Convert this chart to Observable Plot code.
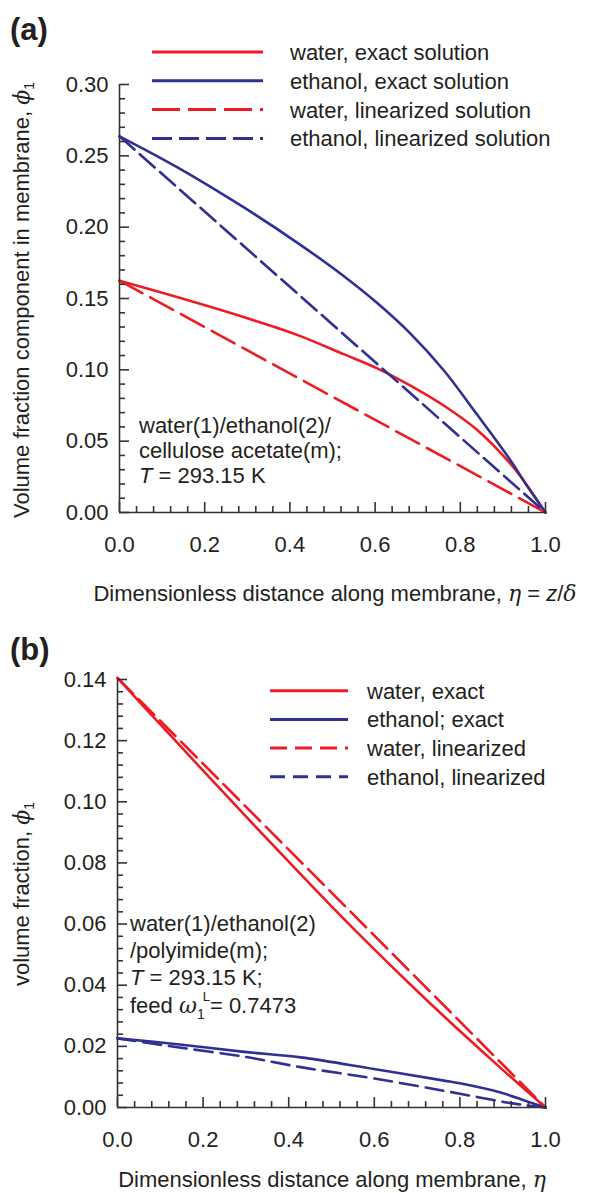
<!DOCTYPE html>
<html><head><meta charset="utf-8">
<script src="https://cdn.jsdelivr.net/npm/d3@7"></script>
<script src="https://cdn.jsdelivr.net/npm/@observablehq/plot@0.6"></script>
<style>
body{margin:0;background:#fff;}
#wrap{position:relative;width:589px;height:1193px;}
.panel{position:absolute;left:0;}
</style></head><body><div id="wrap"></div>
<script>
// ---------- Panel (a): water(1)/ethanol(2)/cellulose acetate(m) ----------
const etaA_waterExact   = [0, 0.135, 0.291, 0.417, 0.526, 0.605, 0.683, 0.761, 0.839, 0.918, 0.965, 1];
const phiA_waterExact   = [0.1625, 0.151, 0.137, 0.1245, 0.111, 0.101, 0.089, 0.075, 0.058, 0.034, 0.0155, 0];
const etaA_ethanolExact = [0, 0.135, 0.291, 0.417, 0.526, 0.605, 0.683, 0.761, 0.839, 0.918, 0.957, 1];
const phiA_ethanolExact = [0.2637, 0.2421, 0.2140, 0.1892, 0.1658, 0.1468, 0.1254, 0.0997, 0.0688, 0.0365, 0.0185, 0];
const etaA_waterLin     = [0, 0.5, 1];
const phiA_waterLin     = [0.1625, 0.0812, 0];
const etaA_ethanolLin   = [0, 0.5, 1];
const phiA_ethanolLin   = [0.2637, 0.1318, 0];
const yMajorA = [0, 0.05, 0.10, 0.15, 0.20, 0.25, 0.30];
const yMinorA = [0.01,0.02,0.03,0.04,0.06,0.07,0.08,0.09,0.11,0.12,0.13,0.14,0.16,0.17,0.18,0.19,0.21,0.22,0.23,0.24,0.26,0.27,0.28,0.29];

// ---------- Panel (b): water(1)/ethanol(2)/polyimide(m) ----------
const etaB_waterExact   = [0, 0.1, 0.2, 0.3, 0.4, 0.5, 0.6, 0.7, 0.8, 0.9, 1];
const phiB_waterExact   = [0.1405, 0.1253, 0.1102, 0.0952, 0.0804, 0.0658, 0.0517, 0.0381, 0.0250, 0.0123, 0];
const etaB_waterLin     = [0, 0.5, 1];
const phiB_waterLin     = [0.1405, 0.0703, 0];
const etaB_ethanolExact = [0, 0.14, 0.296, 0.428, 0.599, 0.763, 0.80, 0.895, 0.957, 1];
const phiB_ethanolExact = [0.0226, 0.0207, 0.0182, 0.0164, 0.0126, 0.0088, 0.0079, 0.0049, 0.0020, 0];
const etaB_ethanolLin   = [0, 0.14, 0.296, 0.428, 0.599, 0.80, 0.895, 0.95, 1];
const phiB_ethanolLin   = [0.0226, 0.0197, 0.0166, 0.0132, 0.0095, 0.0045, 0.0020, 0.0008, 0];
const yMajorB = [0, 0.02, 0.04, 0.06, 0.08, 0.10, 0.12, 0.14];
const yMinorB = [0.004,0.008,0.012,0.016,0.024,0.028,0.032,0.036,0.044,0.048,0.052,0.056,0.064,0.068,0.072,0.076,0.084,0.088,0.092,0.096,0.104,0.108,0.112,0.116,0.124,0.128,0.132,0.136];

const xMajor = [0, 0.2, 0.4, 0.6, 0.8, 1.0];
const xMinor = [0.04,0.08,0.12,0.16,0.24,0.28,0.32,0.36,0.44,0.48,0.52,0.56,0.64,0.68,0.72,0.76,0.84,0.88,0.92,0.96];

const RED = "#ed1c24", BLUE = "#2e3192", AX = "#333333", TEXT = "#231f20";
const FONT = "'Liberation Sans', Arial, Helvetica, sans-serif";
const GREEK = "'DejaVu Serif', 'Liberation Serif', serif";

const legendA = ["water, exact solution", "ethanol, exact solution", "water, linearized solution", "ethanol, linearized solution"];
const legendB = ["water, exact", "ethanol; exact", "water, linearized", "ethanol, linearized"];

function series(eta, phi) { return eta.map((e, i) => ({eta: e, phi: phi[i]})); }

function panel({height, ml, mr, mt, mb, yDomain, yMajor, yMinor, yFmt, lines}) {
  const fw = 589 - ml - mr, fh = height - mt - mb;
  const span = yDomain[1] - yDomain[0];
  const lenX = px => px / fw;                    // px → x-domain units
  const lenY = px => yDomain[0] + span * px / fh; // px → y-domain units
  return Plot.plot({
    width: 589, height, marginLeft: ml, marginRight: mr, marginTop: mt, marginBottom: mb,
    x: {domain: [0, 1]},
    y: {domain: yDomain},
    marks: [
      ...lines.map(l => Plot.line(series(l.eta, l.phi), {
        x: "eta", y: "phi", stroke: l.color, strokeWidth: 2.6,
        strokeDasharray: l.dash, curve: l.curve || "catmull-rom"
      })),
      // inward minor and major ticks
      Plot.ruleY(yMinor, {y: d => d, x1: 0, x2: lenX(6), stroke: AX, strokeWidth: 1.6}),
      Plot.ruleY(yMajor, {y: d => d, x1: 0, x2: lenX(10), stroke: AX, strokeWidth: 1.6}),
      Plot.ruleX(xMinor, {x: d => d, y1: yDomain[0], y2: lenY(6), stroke: AX, strokeWidth: 1.6}),
      Plot.ruleX(xMajor, {x: d => d, y1: yDomain[0], y2: lenY(10), stroke: AX, strokeWidth: 1.6}),
      Plot.ruleX([0], {stroke: AX, strokeWidth: 1.6}),
      Plot.ruleY([yDomain[0]], {stroke: AX, strokeWidth: 1.6}),
      Plot.axisY(yMajor, {anchor: "left", tickSize: 0, tickPadding: 11, tickFormat: yFmt, label: null,
        fill: TEXT, fontSize: 22, fontFamily: FONT}),
      Plot.axisX(xMajor, {anchor: "bottom", tickSize: 0, tickPadding: 24, tickFormat: d3.format(".1f"), label: null,
        fill: TEXT, fontSize: 22, fontFamily: FONT})
    ]
  });
}

const wrap = document.getElementById("wrap");

const ov = d3.select(wrap).append("svg")
  .attr("class", "panel")
  .attr("width", 589).attr("height", 1193)
  .style("top", "0px")
  .attr("font-family", FONT).attr("fill", TEXT).attr("font-size", 22);

const svgA = panel({
  height: 600, ml: 119, mr: 44, mt: 84, mb: 88,
  yDomain: [0, 0.30], yMajor: yMajorA, yMinor: yMinorA, yFmt: d3.format(".2f"),
  lines: [
    {eta: etaA_waterExact, phi: phiA_waterExact, color: RED},
    {eta: etaA_ethanolExact, phi: phiA_ethanolExact, color: BLUE},
    {eta: etaA_waterLin, phi: phiA_waterLin, color: RED, dash: "26,9", curve: "linear"},
    {eta: etaA_ethanolLin, phi: phiA_ethanolLin, color: BLUE, dash: "20,7", curve: "linear"}
  ]
});
svgA.classList.add("panel");
svgA.style.top = "0px";
svgA.style.background = "transparent";
wrap.appendChild(svgA);

const svgB = panel({
  height: 593, ml: 117, mr: 44, mt: 79, mb: 86,
  yDomain: [0, 0.14], yMajor: yMajorB, yMinor: yMinorB, yFmt: d3.format(".2f"),
  lines: [
    {eta: etaB_waterExact, phi: phiB_waterExact, color: RED},
    {eta: etaB_ethanolExact, phi: phiB_ethanolExact, color: BLUE},
    {eta: etaB_waterLin, phi: phiB_waterLin, color: RED, dash: "22,8", curve: "linear"},
    {eta: etaB_ethanolLin, phi: phiB_ethanolLin, color: BLUE, dash: "18,8"}
  ]
});
svgB.classList.add("panel");
svgB.style.top = "600px";
svgB.style.background = "transparent";
wrap.appendChild(svgB);

// ---------- Overlay content: panel letters, legends, annotations, axis titles ----------
ov.append("text").attr("x", 10).attr("y", 40).attr("font-size", 31).attr("font-weight", "bold").text("(a)");
ov.append("text").attr("x", 10).attr("y", 660).attr("font-size", 31).attr("font-weight", "bold").text("(b)");

function legend(items, styles, x1, x2, tx, y0, dy) {
  items.forEach((t, i) => {
    const y = y0 + i * dy;
    ov.append("line").attr("x1", x1).attr("x2", x2).attr("y1", y).attr("y2", y)
      .attr("stroke", styles[i].color).attr("stroke-width", 3)
      .attr("stroke-dasharray", styles[i].dash || null);
    ov.append("text").attr("x", tx).attr("y", y + 8).text(t);
  });
}
legend(legendA, [{color: RED}, {color: BLUE}, {color: RED, dash: "28,8"}, {color: BLUE, dash: "20,7"}], 152, 263, 290, 52, 28.8);
legend(legendB, [{color: RED}, {color: BLUE}, {color: RED, dash: "17,8"}, {color: BLUE, dash: "15,8"}], 270, 348, 367, 690.7, 28.7);

// annotation (a)
const annA = ov.append("text");
annA.append("tspan").attr("x", 139).attr("y", 433).text("water(1)/ethanol(2)/");
annA.append("tspan").attr("x", 139).attr("y", 458).text("cellulose acetate(m);");
const tA = annA.append("tspan").attr("x", 139).attr("y", 483);
tA.append("tspan").attr("font-style", "italic").text("T");
tA.append("tspan").text(" = 293.15 K");

// annotation (b)
const annB = ov.append("text");
annB.append("tspan").attr("x", 130).attr("y", 931).text("water(1)/ethanol(2)");
annB.append("tspan").attr("x", 130).attr("y", 958).text("/polyimide(m);");
const tB = annB.append("tspan").attr("x", 130).attr("y", 985);
tB.append("tspan").attr("font-style", "italic").text("T");
tB.append("tspan").text(" = 293.15 K;");
const fB = ov.append("text").attr("x", 130).attr("y", 1013);
fB.append("tspan").text("feed ");
fB.append("tspan").attr("font-family", GREEK).attr("font-style", "italic").text("ω");
fB.append("tspan").attr("font-size", 14).attr("dy", 6).text("1");
fB.append("tspan").attr("font-size", 13).attr("dx", -2).attr("dy", -18).text("L");
fB.append("tspan").attr("dy", 12).text("= 0.7473");

// y-axis titles
function yTitle(cx, cy, text) {
  const t = ov.append("text").attr("transform", `translate(${cx},${cy}) rotate(-90)`).attr("text-anchor", "middle");
  t.append("tspan").text(text);
  t.append("tspan").attr("font-family", GREEK).attr("font-style", "italic").text("ϕ");
  t.append("tspan").attr("font-size", 14).attr("dy", 5).text("1");
}
yTitle(29, 300, "Volume fraction component in membrane, ");
yTitle(29, 894, "volume fraction, ");

// x-axis titles
const xa = ov.append("text").attr("x", 335).attr("y", 601).attr("text-anchor", "middle");
xa.append("tspan").text("Dimensionless distance along membrane, ");
xa.append("tspan").attr("font-family", GREEK).attr("font-style", "italic").text("η");
xa.append("tspan").text(" = ");
xa.append("tspan").attr("font-style", "italic").text("z");
xa.append("tspan").text("/");
xa.append("tspan").attr("font-family", GREEK).attr("font-style", "italic").text("δ");

const xb = ov.append("text").attr("x", 332).attr("y", 1187).attr("text-anchor", "middle");
xb.append("tspan").text("Dimensionless distance along membrane, ");
xb.append("tspan").attr("font-family", GREEK).attr("font-style", "italic").text("η");
</script></body></html>
